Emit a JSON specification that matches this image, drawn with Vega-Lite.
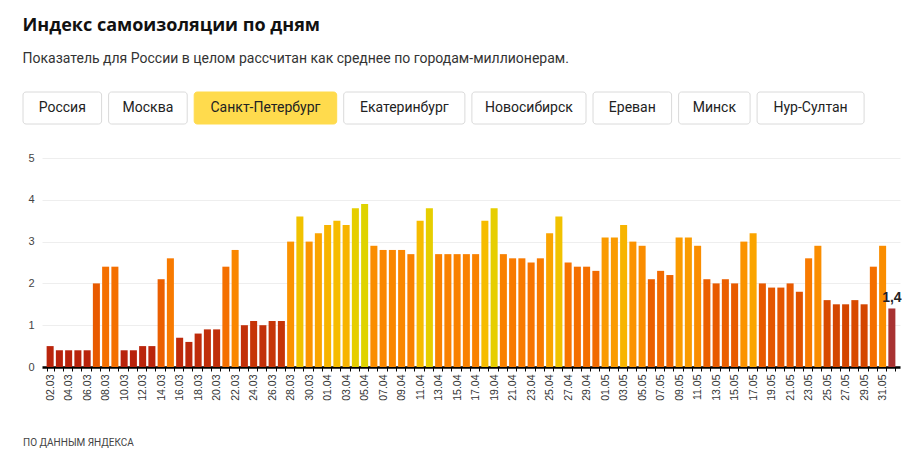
{
  "$schema": "https://vega.github.io/schema/vega-lite/v6.json",
  "background": "white",
  "padding": {"left": 22, "top": 16, "right": 0, "bottom": 0},
  "title": {
    "text": "Индекс самоизоляции по дням",
    "subtitle": "Показатель для России в целом рассчитан как среднее по городам-миллионерам.",
    "anchor": "start",
    "frame": "bounds",
    "font": "Open Sans",
    "fontSize": 18,
    "fontWeight": "bold",
    "color": "#111111",
    "subtitleFont": "Roboto",
    "subtitleFontSize": 14,
    "subtitleColor": "#333333",
    "subtitlePadding": 17,
    "offset": 26
  },
  "datasets": {
    "cities": [
      {"name": "Россия"},
      {"name": "Москва"},
      {"name": "Санкт-Петербург"},
      {"name": "Екатеринбург"},
      {"name": "Новосибирск"},
      {"name": "Ереван"},
      {"name": "Минск"},
      {"name": "Нур-Султан"}
    ],
    "days": [
      {"d": "02.03", "v": 0.5}, {"d": "03.03", "v": 0.4}, {"d": "04.03", "v": 0.4}, {"d": "05.03", "v": 0.4},
      {"d": "06.03", "v": 0.4}, {"d": "07.03", "v": 2.0}, {"d": "08.03", "v": 2.4}, {"d": "09.03", "v": 2.4},
      {"d": "10.03", "v": 0.4}, {"d": "11.03", "v": 0.4}, {"d": "12.03", "v": 0.5}, {"d": "13.03", "v": 0.5},
      {"d": "14.03", "v": 2.1}, {"d": "15.03", "v": 2.6}, {"d": "16.03", "v": 0.7}, {"d": "17.03", "v": 0.6},
      {"d": "18.03", "v": 0.8}, {"d": "19.03", "v": 0.9}, {"d": "20.03", "v": 0.9}, {"d": "21.03", "v": 2.4},
      {"d": "22.03", "v": 2.8}, {"d": "23.03", "v": 1.0}, {"d": "24.03", "v": 1.1}, {"d": "25.03", "v": 1.0},
      {"d": "26.03", "v": 1.1}, {"d": "27.03", "v": 1.1}, {"d": "28.03", "v": 3.0}, {"d": "29.03", "v": 3.6},
      {"d": "30.03", "v": 3.0}, {"d": "31.03", "v": 3.2},
      {"d": "01.04", "v": 3.4}, {"d": "02.04", "v": 3.5}, {"d": "03.04", "v": 3.4}, {"d": "04.04", "v": 3.8},
      {"d": "05.04", "v": 3.9}, {"d": "06.04", "v": 2.9}, {"d": "07.04", "v": 2.8}, {"d": "08.04", "v": 2.8},
      {"d": "09.04", "v": 2.8}, {"d": "10.04", "v": 2.7}, {"d": "11.04", "v": 3.5}, {"d": "12.04", "v": 3.8},
      {"d": "13.04", "v": 2.7}, {"d": "14.04", "v": 2.7}, {"d": "15.04", "v": 2.7}, {"d": "16.04", "v": 2.7},
      {"d": "17.04", "v": 2.7}, {"d": "18.04", "v": 3.5}, {"d": "19.04", "v": 3.8}, {"d": "20.04", "v": 2.7},
      {"d": "21.04", "v": 2.6}, {"d": "22.04", "v": 2.6}, {"d": "23.04", "v": 2.5}, {"d": "24.04", "v": 2.6},
      {"d": "25.04", "v": 3.2}, {"d": "26.04", "v": 3.6}, {"d": "27.04", "v": 2.5}, {"d": "28.04", "v": 2.4},
      {"d": "29.04", "v": 2.4}, {"d": "30.04", "v": 2.3},
      {"d": "01.05", "v": 3.1}, {"d": "02.05", "v": 3.1}, {"d": "03.05", "v": 3.4}, {"d": "04.05", "v": 3.0},
      {"d": "05.05", "v": 2.9}, {"d": "06.05", "v": 2.1}, {"d": "07.05", "v": 2.3}, {"d": "08.05", "v": 2.2},
      {"d": "09.05", "v": 3.1}, {"d": "10.05", "v": 3.1}, {"d": "11.05", "v": 2.9}, {"d": "12.05", "v": 2.1},
      {"d": "13.05", "v": 2.0}, {"d": "14.05", "v": 2.1}, {"d": "15.05", "v": 2.0}, {"d": "16.05", "v": 3.0},
      {"d": "17.05", "v": 3.2}, {"d": "18.05", "v": 2.0}, {"d": "19.05", "v": 1.9}, {"d": "20.05", "v": 1.9},
      {"d": "21.05", "v": 2.0}, {"d": "22.05", "v": 1.8}, {"d": "23.05", "v": 2.6}, {"d": "24.05", "v": 2.9},
      {"d": "25.05", "v": 1.6}, {"d": "26.05", "v": 1.5}, {"d": "27.05", "v": 1.5}, {"d": "28.05", "v": 1.6},
      {"d": "29.05", "v": 1.5}, {"d": "30.05", "v": 2.4}, {"d": "31.05", "v": 2.9},
      {"d": "01.06", "v": 1.4}
    ]
  },
  "spacing": 27,
  "vconcat": [
    {
      "width": 858,
      "height": 32,
      "data": {"name": "cities"},
      "transform": [
        {"calculate": "length(datum.name) * 7.1 + 36", "as": "w"},
        {"calculate": "datum.w + 7", "as": "step"},
        {"window": [{"op": "sum", "field": "step", "as": "cum"}]},
        {"calculate": "datum.cum - datum.step", "as": "x0"},
        {"calculate": "datum.x0 + datum.w", "as": "x1"},
        {"calculate": "datum.x0 + datum.w / 2", "as": "xm"}
      ],
      "encoding": {
        "x": {"field": "x0", "type": "quantitative", "scale": {"domain": [19, 877], "nice": false, "zero": false}, "axis": null}
      },
      "layer": [
        {
          "mark": {"type": "rect", "cornerRadius": 3, "strokeWidth": 1},
          "encoding": {
            "x2": {"field": "x1"},
            "fill": {"condition": {"test": "datum.name === 'Санкт-Петербург'", "value": "#ffdb4d"}, "value": "#ffffff"},
            "stroke": {"condition": {"test": "datum.name === 'Санкт-Петербург'", "value": "#ffdb4d"}, "value": "#dadada"}
          }
        },
        {
          "mark": {"type": "text", "font": "Roboto", "fontSize": 14, "color": "#222222", "baseline": "middle", "align": "center"},
          "encoding": {
            "x": {"field": "xm", "type": "quantitative"},
            "text": {"field": "name"}
          }
        }
      ],
      "view": {"stroke": null}
    },
    {
      "width": 858,
      "height": 209,
      "data": {"name": "days"},
      "title": {
        "text": "ПО ДАННЫМ ЯНДЕКСА",
        "orient": "bottom",
        "anchor": "start",
        "frame": "bounds",
        "font": "Roboto",
        "fontSize": 10,
        "fontWeight": "normal",
        "color": "#444444",
        "offset": 38
      },
      "encoding": {
        "x": {
          "field": "d",
          "type": "ordinal",
          "sort": null,
          "scale": {"paddingInner": 0.24, "paddingOuter": 0.5},
          "axis": {
            "title": null,
            "labelAngle": -90,
            "labelFont": "Liberation Sans",
            "labelFontSize": 10.5,
            "labelColor": "#333333",
            "labelPadding": 3,
            "tickBand": "extent",
            "tickSize": 4,
            "tickColor": "#000000",
            "domainColor": "#000000",
            "domainWidth": 2.5,
            "labelExpr": "(substring(datum.value,3,5) === '03' && toNumber(substring(datum.value,0,2)) % 2 === 0) || ((substring(datum.value,3,5) === '04' || substring(datum.value,3,5) === '05') && toNumber(substring(datum.value,0,2)) % 2 === 1) ? datum.value : ''"
          }
        },
        "y": {
          "field": "v",
          "type": "quantitative",
          "scale": {"domain": [0, 5], "nice": false},
          "axis": {
            "title": null,
            "values": [0, 1, 2, 3, 4, 5],
            "domain": false,
            "ticks": false,
            "labelFont": "Liberation Sans",
            "labelFontSize": 11,
            "labelColor": "#444444",
            "labelPadding": 8,
            "minExtent": 19,
            "gridColor": "#eeeeee",
            "format": "d"
          }
        }
      },
      "layer": [
        {
          "mark": {"type": "bar"},
          "encoding": {
            "color": {
              "condition": {"test": "datum.d === '01.06'", "value": "#a83232"},
              "field": "v",
              "type": "quantitative",
              "scale": {
                "type": "linear",
                "domain": [0.4, 1.0, 1.5, 2.0, 2.5, 3.0, 3.5, 4.0],
                "range": ["#b8230c", "#c2300a", "#d44600", "#e85a00", "#f77400", "#fb9300", "#f6bc00", "#d9d90a"],
                "clamp": true
              },
              "legend": null
            }
          }
        },
        {
          "transform": [
            {"filter": "datum.d === '01.06'"},
            {"calculate": "replace(format(datum.v, '.1f'), '.', ',')", "as": "lbl"}
          ],
          "mark": {"type": "text", "font": "Liberation Sans", "fontSize": 14, "fontWeight": "bold", "color": "#222222", "baseline": "bottom", "dy": -3},
          "encoding": {"text": {"field": "lbl"}}
        }
      ],
      "view": {"stroke": null}
    }
  ]
}
